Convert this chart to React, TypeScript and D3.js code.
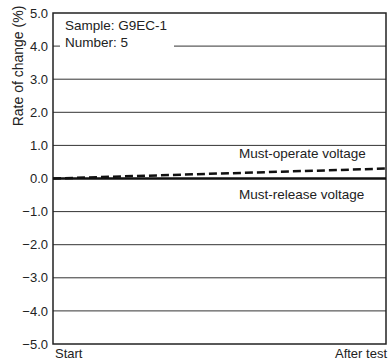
import * as d3 from 'd3';

const categories = ['Start', 'After test'];
const operateValues = [0, 0.3];
const releaseValues = [0, 0];
const yTicks = [5, 4, 3, 2, 1, 0, -1, -2, -3, -4, -5];
const sampleLines = ['Sample: G9EC-1', 'Number: 5'];

const W = 391;
const H = 362;
const margin = { top: 13, right: 5, bottom: 18, left: 53 };
const font = 'Liberation Sans, Arial, Helvetica, sans-serif';

export default function App() {
    const x = d3.scalePoint<string>()
        .domain(categories)
        .range([margin.left, W - margin.right]);
    const y = d3.scaleLinear()
        .domain([-5, 5])
        .range([H - margin.bottom, margin.top]);

    const line = d3.line<number>()
        .x((d, i) => x(categories[i]) as number)
        .y(d => y(d));

    const fmt = (v: number) => (v < 0 ? '\u2212' : '') + Math.abs(v).toFixed(1);
    const left = margin.left;
    const right = W - margin.right;

    return (
        <svg width={W} height={H} style={{ position: 'absolute', left: 0, top: 0, background: '#fff' }}
            fontFamily={font}>
            {/* gridlines, the 4.0 one broken behind the sample note */}
            {yTicks.filter(t => t !== 5 && t !== -5 && t !== 0).map(t => (
                t === 4 ? (
                    <g key={t}>
                        <line x1={left} x2={left + 7} y1={y(t)} y2={y(t)} stroke="#333" strokeWidth={1} />
                        <line x1={174} x2={right} y1={y(t)} y2={y(t)} stroke="#333" strokeWidth={1} />
                    </g>
                ) : (
                    <line key={t} x1={left} x2={right} y1={y(t)} y2={y(t)} stroke="#333" strokeWidth={1} />
                )
            ))}
            <rect x={left} y={margin.top} width={right - left} height={H - margin.bottom - margin.top}
                fill="none" stroke="#222" strokeWidth={1.5} />
            <path d={line(releaseValues) || ''} fill="none" stroke="#111" strokeWidth={2.5} />
            <path d={line(operateValues) || ''} fill="none" stroke="#111" strokeWidth={2.5} strokeDasharray="8,4" />
            {yTicks.map(t => (
                <text key={t} x={48} y={y(t)} dy="0.36em" textAnchor="end" fontSize={13} fill="#222">
                    {fmt(t)}
                </text>
            ))}
            <text x={left + 2} y={358} fontSize={13} fill="#222">{categories[0]}</text>
            <text x={right + 1} y={358} fontSize={13} fill="#222" textAnchor="end">{categories[1]}</text>
            <text transform={`translate(23,66) rotate(-90)`} textAnchor="middle" fontSize={14} fill="#222">
                Rate of change (%)
            </text>
            {sampleLines.map((s, i) => (
                <text key={s} x={65} y={30 + i * 16.5} fontSize={13.5} fill="#222">{s}</text>
            ))}
            <text x={239} y={158} fontSize={13.5} fill="#222">Must-operate voltage</text>
            <text x={239} y={199} fontSize={13.5} fill="#222">Must-release voltage</text>
        </svg>
    );
}
